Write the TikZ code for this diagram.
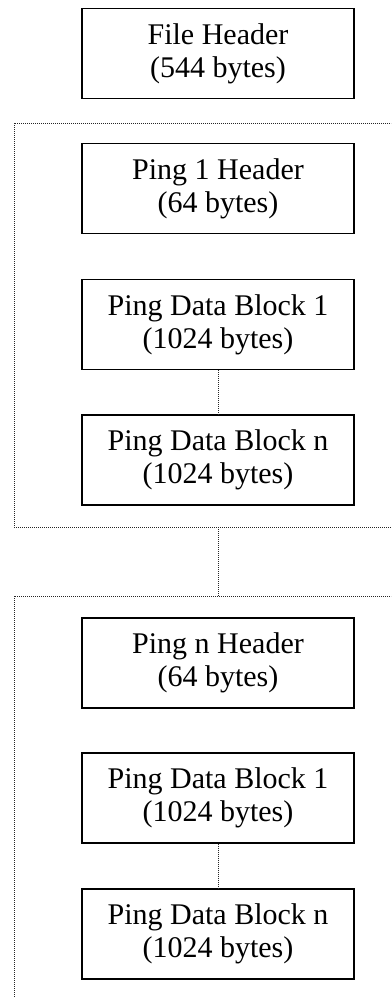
\documentclass[tikz,border=0pt]{standalone}
\usepackage{fontspec}
\setmainfont{Liberation Serif}
\begin{document}
\begin{tikzpicture}[x=1pt,y=1pt,
  blockbox/.style={draw=black, line width=1.4pt, minimum width=272pt, minimum height=90pt,
    align=center, inner sep=0pt, font=\fontsize{30}{33}\selectfont},
  dotline/.style={draw=black!85, line width=1pt, dash pattern=on 1pt off 1pt}]
\useasboundingbox (0,0) rectangle (391,-998);
\clip (0,0) rectangle (391,-998);
% boxes
\node[blockbox] (fh) at (218,-53.5) {File Header\\(544 bytes)};
\node[blockbox] (p1h) at (218,-188.5) {Ping 1 Header\\(64 bytes)};
\node[blockbox] (p1d1) at (218,-324.5) {Ping Data Block 1\\(1024 bytes)};
\node[blockbox] (p1dn) at (218,-460) {Ping Data Block n\\(1024 bytes)};
\node[blockbox] (pnh) at (218,-663) {Ping n Header\\(64 bytes)};
\node[blockbox] (pnd1) at (218,-798) {Ping Data Block 1\\(1024 bytes)};
\node[blockbox] (pndn) at (218,-934) {Ping Data Block n\\(1024 bytes)};
% frames
\coordinate (f1b) at (218,-527);
\coordinate (f2t) at (218,-596);
\draw[dotline] (400,-123) -- (14,-123) -- (14,-527) -- (400,-527);
\draw[dotline] (400,-596) -- (14,-596) -- (14,-1005);
% connectors
\draw[dotline] (p1d1.south) -- (p1dn.north);
\draw[dotline] (f1b) -- (f2t);
\draw[dotline] (pnd1.south) -- (pndn.north);
\end{tikzpicture}
\end{document}
